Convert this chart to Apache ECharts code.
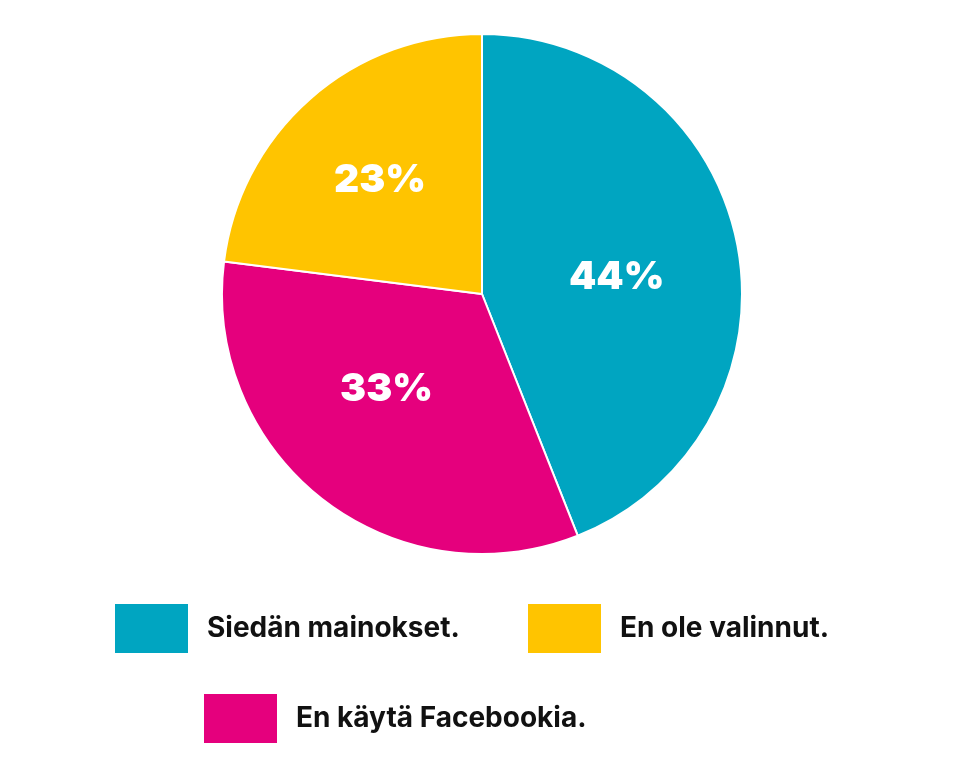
<!DOCTYPE html>
<html>
<head>
<meta charset="utf-8">
<style>
  html, body { margin: 0; padding: 0; background: #fff; }
  #main { width: 980px; height: 782px; }
</style>
<script src="https://cdn.jsdelivr.net/npm/echarts@6/dist/echarts.min.js"></script>
</head>
<body>
<div id="main"></div>
<script>
  // data
  var categories = ['Siedän mainokset.', 'En käytä Facebookia.', 'En ole valinnut.'];
  var values = [44, 33, 23];
  var colors = ['#00a5c1', '#e5007d', '#ffc400'];
  // label nudges, the original labels are placed by hand
  var labelOffsets = [[4, 8], [-14, -10], [-14, -14]];

  var myChart = echarts.init(document.getElementById('main'));

  var legendBase = function (name, left, top) {
    return {
      data: [name],
      left: left,
      top: top,
      orient: 'horizontal',
      icon: 'rect',
      itemWidth: 73,
      itemHeight: 49,
      padding: 0,
      selectedMode: false,
      itemStyle: { borderWidth: 0 },
      textStyle: {
        color: '#111',
        fontFamily: 'Inter',
        fontWeight: 700,
        fontSize: 28,
        padding: [6, 0, 0, 14]
      }
    };
  };

  var option = {
    backgroundColor: '#fff',
    color: colors,
    legend: [
      legendBase(categories[0], 115, 604),
      legendBase(categories[2], 528, 604),
      legendBase(categories[1], 204, 694)
    ],
    series: [
      {
        type: 'pie',
        center: [482, 294],
        radius: [0, 260],
        startAngle: 90,
        clockwise: true,
        animation: false,
        itemStyle: {
          borderColor: '#fff',
          borderWidth: 2
        },
        label: {
          show: true,
          position: 'inside',
          formatter: '{c}%',
          color: '#fff',
          fontFamily: 'Inter',
          fontWeight: 900,
          fontSize: 39
        },
        labelLine: { show: false },
        emphasis: { disabled: true },
        data: categories.map(function (c, i) {
          return { name: c, value: values[i], label: { offset: labelOffsets[i] } };
        })
      }
    ]
  };

  myChart.setOption(option);
</script>
</body>
</html>
